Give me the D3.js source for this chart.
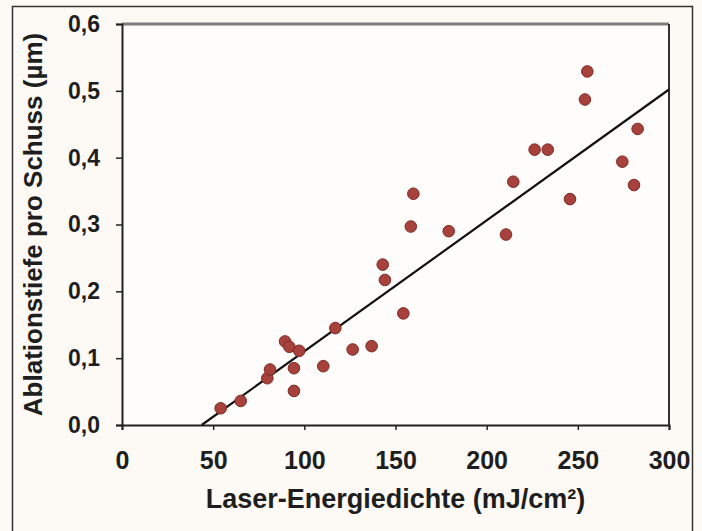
<!DOCTYPE html>
<html>
<head>
<meta charset="utf-8">
<script src="https://cdn.jsdelivr.net/npm/d3@7"></script>
<style>
  html, body { margin: 0; padding: 0; background: #fdf9f5; }
  svg { display: block; font-family: "Liberation Sans", Arial, sans-serif; }
</style>
</head>
<body>
<div id="chart"></div>
<script>
// Messpunkte (Laser-Energiedichte in mJ/cm², Ablationstiefe in µm)
const energie = [54.1, 65.1, 79.7, 81.2, 89.4, 91.8, 94.3, 94.3, 97.2, 110.4,
                 117.0, 126.5, 136.9, 143.0, 144.2, 154.3, 158.4, 159.8, 179.2, 210.6,
                 214.6, 226.3, 233.5, 245.7, 253.9, 255.2, 274.4, 280.8, 282.8];
const tiefe   = [0.025, 0.036, 0.070, 0.083, 0.125, 0.117, 0.085, 0.051, 0.111, 0.088,
                 0.145, 0.113, 0.118, 0.240, 0.217, 0.167, 0.297, 0.346, 0.290, 0.285,
                 0.364, 0.412, 0.412, 0.338, 0.487, 0.529, 0.394, 0.359, 0.443];

// Regressionsgerade (Endpunkte aus der Abbildung)
const fitX = [43.7, 300];
const fitY = [0, 0.502];

const xTicks = [0, 50, 100, 150, 200, 250, 300];
const yTicks = [0, 0.1, 0.2, 0.3, 0.4, 0.5, 0.6];
const yTickLabels = ["0,0", "0,1", "0,2", "0,3", "0,4", "0,5", "0,6"];

const data = energie.map((e, i) => ({ e: e, t: tiefe[i] }));

const width = 702;
const height = 531;
const margin = { top: 24, right: 33, bottom: 106, left: 122 };

const x = d3.scaleLinear()
    .domain([0, 300])
    .range([margin.left, width - margin.right]);

const y = d3.scaleLinear()
    .domain([0, 0.6])
    .range([height - margin.bottom, margin.top]);

const svg = d3.select("#chart").append("svg")
    .attr("width", width)
    .attr("height", height)
    .attr("viewBox", [0, 0, width, height]);

// Rahmen um die Abbildung
svg.append("rect")
    .attr("x", 12.5).attr("y", 6.5)
    .attr("width", 680).attr("height", 540)
    .attr("fill", "#fdf9f5")
    .attr("stroke", "#333")
    .attr("stroke-width", 1.5);

// Plotfläche
svg.append("rect")
    .attr("x", x(0)).attr("y", y(0.6))
    .attr("width", x(300) - x(0)).attr("height", y(0) - y(0.6))
    .attr("fill", "#fffdfb");

// obere und rechte Begrenzung
svg.append("line")
    .attr("x1", x(0)).attr("x2", x(300))
    .attr("y1", y(0.6)).attr("y2", y(0.6))
    .attr("stroke", "#7d7d7d")
    .attr("stroke-width", 3);

svg.append("line")
    .attr("x1", x(300)).attr("x2", x(300))
    .attr("y1", y(0.6)).attr("y2", y(0))
    .attr("stroke", "#333")
    .attr("stroke-width", 2);

// Achsen
const xAxis = svg.append("g")
    .attr("transform", `translate(0,${y(0)})`)
    .call(d3.axisBottom(x).tickValues(xTicks).tickSize(5).tickPadding(21));

const yAxis = svg.append("g")
    .attr("transform", `translate(${x(0)},0)`)
    .call(d3.axisLeft(y).tickValues(yTicks).tickFormat((d, i) => yTickLabels[i])
        .tickSize(6).tickPadding(16));

[xAxis, yAxis].forEach(g => {
    g.select(".domain").attr("stroke", "#222").attr("stroke-width", 2);
    g.selectAll(".tick line").attr("stroke", "#222").attr("stroke-width", 1.5);
    g.selectAll(".tick text")
        .attr("fill", "#1e1e1e")
        .attr("font-size", "25px")
        .attr("font-weight", "bold");
});
yAxis.selectAll(".tick text").attr("font-size", "23px");

// Achsentitel
svg.append("text")
    .attr("x", (x(0) + x(300)) / 2)
    .attr("y", 508)
    .attr("text-anchor", "middle")
    .attr("font-size", "27px")
    .attr("font-weight", "bold")
    .attr("fill", "#1e1e1e")
    .text("Laser-Energiedichte (mJ/cm²)");

svg.append("text")
    .attr("transform", `translate(42,${(y(0) + y(0.6)) / 2}) rotate(-90)`)
    .attr("text-anchor", "middle")
    .attr("font-size", "26px")
    .attr("font-weight", "bold")
    .attr("fill", "#1e1e1e")
    .text("Ablationstiefe pro Schuss (µm)");

// Regressionsgerade
svg.append("line")
    .attr("x1", x(fitX[0])).attr("y1", y(fitY[0]))
    .attr("x2", x(fitX[1])).attr("y2", y(fitY[1]))
    .attr("stroke", "#111")
    .attr("stroke-width", 2.2);

// Messpunkte
svg.append("g")
    .selectAll("circle")
    .data(data)
    .join("circle")
    .attr("cx", d => x(d.e))
    .attr("cy", d => y(d.t))
    .attr("r", 5.8)
    .attr("fill", "#a6413b")
    .attr("stroke", "#7e2a26")
    .attr("stroke-width", 1);
</script>
</body>
</html>
